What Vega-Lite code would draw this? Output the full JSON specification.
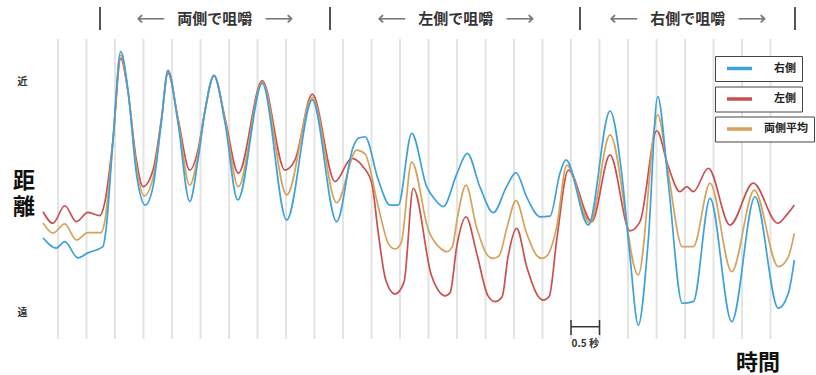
{
  "$schema": "https://vega.github.io/schema/vega-lite/v6.json",
  "width": 816,
  "height": 375,
  "autosize": {"type": "none"},
  "padding": 0,
  "config": {"view": {"stroke": null}, "font": "Noto Sans CJK JP"},
  "datasets": {
    "grid": [{"t":0},{"t":0.5},{"t":1},{"t":1.5},{"t":2},{"t":2.5},{"t":3},{"t":3.5},{"t":4},{"t":4.5},{"t":5},{"t":5.5},{"t":6},{"t":6.5},{"t":7},{"t":7.5},{"t":8},{"t":8.5},{"t":9},{"t":9.5},{"t":10},{"t":10.5},{"t":11},{"t":11.5},{"t":12},{"t":12.5}],
    "dividers": [{"t":0.737},{"t":4.772},{"t":9.158},{"t":12.93}],
    "sections": [{"t":2.75,"label":"両側で咀嚼"},{"t":6.98,"label":"左側で咀嚼"},{"t":11.05,"label":"右側で咀嚼"}],
    "scalebar": [{"t":9},{"t":9.5}],
    "lines": [
      {"side":"右側","t":-0.263,"d":32.3},{"side":"右側","t":-0.03,"d":27.8},{"side":"右側","t":0.118,"d":30.6},{"side":"右側","t":0.351,"d":23.5},{"side":"右側","t":0.526,"d":25.7},{"side":"右側","t":0.789,"d":28.4},{"side":"右側","t":0.842,"d":35.7},{"side":"右側","t":0.965,"d":74.8},{"side":"右側","t":1.1,"d":113.2},{"side":"右側","t":1.228,"d":96.5},{"side":"右側","t":1.374,"d":60.4},{"side":"右側","t":1.532,"d":46.5},{"side":"右側","t":1.667,"d":54.5},{"side":"右側","t":1.812,"d":82.2},{"side":"右側","t":1.93,"d":105.2},{"side":"右側","t":2.105,"d":82.2},{"side":"右側","t":2.311,"d":48.0},{"side":"右側","t":2.456,"d":66.1},{"side":"右側","t":2.574,"d":86.5},{"side":"右側","t":2.737,"d":103.0},{"side":"右側","t":2.93,"d":82.2},{"side":"右側","t":3.153,"d":48.7},{"side":"右側","t":3.584,"d":99.4},{"side":"右側","t":4.012,"d":40.0},{"side":"右側","t":4.461,"d":92.2},{"side":"右側","t":4.889,"d":39.3},{"side":"右側","t":5.181,"d":71.9},{"side":"右側","t":5.268,"d":75.5},{"side":"右側","t":5.386,"d":76.2},{"side":"右側","t":5.619,"d":57.4},{"side":"右側","t":5.825,"d":46.5},{"side":"右側","t":5.97,"d":46.5},{"side":"右側","t":6.205,"d":77.7},{"side":"右側","t":6.468,"d":54.5},{"side":"右側","t":6.62,"d":48.7},{"side":"右側","t":6.76,"d":45.8},{"side":"右側","t":7.0,"d":60.3},{"side":"右側","t":7.181,"d":69.0},{"side":"右側","t":7.4,"d":54.5},{"side":"右側","t":7.637,"d":43.2},{"side":"右側","t":7.87,"d":54.5},{"side":"右側","t":8.035,"d":60.6},{"side":"右側","t":8.22,"d":50.1},{"side":"右側","t":8.456,"d":41.4},{"side":"右側","t":8.632,"d":41.7},{"side":"右側","t":8.807,"d":60.4},{"side":"右側","t":8.912,"d":66.1},{"side":"右側","t":9.304,"d":37.8},{"side":"右側","t":9.684,"d":87.4},{"side":"右側","t":9.889,"d":60.3},{"side":"右側","t":10.035,"d":24.0},{"side":"右側","t":10.18,"d":-5.7},{"side":"右側","t":10.356,"d":31.3},{"side":"右側","t":10.521,"d":93.6},{"side":"右側","t":10.707,"d":56.0},{"side":"右側","t":10.953,"d":3.8},{"side":"右側","t":11.146,"d":4.5},{"side":"右側","t":11.439,"d":49.4},{"side":"右側","t":11.819,"d":-4.2},{"side":"右側","t":12.228,"d":50.1},{"side":"右側","t":12.637,"d":1.6},{"side":"右側","t":12.812,"d":8.1},{"side":"右側","t":12.918,"d":22.6},
      {"side":"左側","t":-0.263,"d":43.6},{"side":"左側","t":-0.088,"d":38.6},{"side":"左側","t":0.118,"d":46.2},{"side":"左側","t":0.321,"d":39.3},{"side":"左側","t":0.526,"d":43.3},{"side":"左側","t":0.732,"d":41.9},{"side":"左側","t":0.819,"d":47.4},{"side":"左側","t":0.965,"d":74.8},{"side":"左側","t":1.1,"d":110.3},{"side":"左側","t":1.228,"d":95.7},{"side":"左側","t":1.374,"d":66.1},{"side":"左側","t":1.491,"d":54.5},{"side":"左側","t":1.667,"d":61.7},{"side":"左側","t":1.812,"d":83.5},{"side":"左側","t":1.93,"d":103.9},{"side":"左側","t":2.105,"d":84.3},{"side":"左側","t":2.311,"d":61.7},{"side":"左側","t":2.456,"d":70.4},{"side":"左側","t":2.574,"d":87.0},{"side":"左側","t":2.737,"d":102.6},{"side":"左側","t":2.93,"d":84.3},{"side":"左側","t":3.163,"d":60.3},{"side":"左側","t":3.584,"d":100.6},{"side":"左側","t":3.982,"d":61.7},{"side":"左側","t":4.158,"d":66.1},{"side":"左側","t":4.461,"d":94.7},{"side":"左側","t":4.86,"d":56.7},{"side":"左側","t":5.153,"d":66.8},{"side":"左側","t":5.351,"d":63.2},{"side":"左側","t":5.504,"d":56.1},{"side":"左側","t":5.619,"d":34.3},{"side":"左側","t":5.75,"d":13.9},{"side":"左側","t":5.912,"d":7.8},{"side":"左側","t":6.07,"d":13.0},{"side":"左側","t":6.233,"d":53.8},{"side":"左側","t":6.55,"d":16.0},{"side":"左側","t":6.7,"d":8.5},{"side":"左側","t":6.789,"d":7.0},{"side":"左側","t":6.88,"d":8.5},{"side":"左側","t":6.995,"d":28.4},{"side":"左側","t":7.158,"d":41.4},{"side":"左側","t":7.345,"d":25.6},{"side":"左側","t":7.544,"d":7.0},{"side":"左側","t":7.667,"d":4.5},{"side":"左側","t":7.79,"d":6.5},{"side":"左側","t":7.895,"d":24.0},{"side":"左側","t":8.047,"d":36.4},{"side":"左側","t":8.223,"d":19.7},{"side":"左側","t":8.42,"d":7.0},{"side":"左側","t":8.514,"d":5.2},{"side":"左側","t":8.62,"d":7.0},{"side":"左側","t":8.749,"d":31.3},{"side":"左側","t":8.953,"d":61.7},{"side":"左側","t":9.363,"d":39.3},{"side":"左側","t":9.684,"d":68.3},{"side":"左側","t":10.035,"d":35.3},{"side":"左側","t":10.211,"d":39.3},{"side":"左側","t":10.504,"d":78.8},{"side":"左側","t":10.707,"d":63.2},{"side":"左側","t":10.912,"d":52.3},{"side":"左側","t":11.03,"d":54.5},{"side":"左側","t":11.146,"d":52.3},{"side":"左側","t":11.409,"d":62.5},{"side":"左側","t":11.789,"d":37.8},{"side":"左側","t":12.198,"d":56.0},{"side":"左側","t":12.626,"d":38.6},{"side":"左側","t":12.784,"d":42.2},{"side":"左側","t":12.918,"d":46.5},
      {"side":"両側平均","t":-0.263,"d":38.7},{"side":"両側平均","t":-0.088,"d":34.3},{"side":"両側平均","t":0.118,"d":38.3},{"side":"両側平均","t":0.321,"d":31.3},{"side":"両側平均","t":0.526,"d":34.5},{"side":"両側平均","t":0.754,"d":34.5},{"side":"両側平均","t":0.825,"d":40.0},{"side":"両側平均","t":0.965,"d":74.8},{"side":"両側平均","t":1.1,"d":111.7},{"side":"両側平均","t":1.228,"d":96.1},{"side":"両側平均","t":1.374,"d":63.5},{"side":"両側平均","t":1.509,"d":50.4},{"side":"両側平均","t":1.667,"d":58.3},{"side":"両側平均","t":1.812,"d":82.8},{"side":"両側平均","t":1.93,"d":104.6},{"side":"両側平均","t":2.105,"d":83.5},{"side":"両側平均","t":2.311,"d":55.2},{"side":"両側平均","t":2.456,"d":68.3},{"side":"両側平均","t":2.574,"d":87.0},{"side":"両側平均","t":2.737,"d":102.8},{"side":"両側平均","t":2.93,"d":83.5},{"side":"両側平均","t":3.163,"d":54.5},{"side":"両側平均","t":3.584,"d":100.0},{"side":"両側平均","t":4.012,"d":50.9},{"side":"両側平均","t":4.461,"d":93.3},{"side":"両側平均","t":4.889,"d":47.5},{"side":"両側平均","t":5.239,"d":70.4},{"side":"両側平均","t":5.386,"d":68.7},{"side":"両側平均","t":5.619,"d":45.8},{"side":"両側平均","t":5.80,"d":29.5},{"side":"両側平均","t":5.912,"d":27.4},{"side":"両側平均","t":6.02,"d":30.0},{"side":"両側平均","t":6.205,"d":65.3},{"side":"両側平均","t":6.5,"d":35.5},{"side":"両側平均","t":6.72,"d":27.5},{"side":"両側平均","t":6.819,"d":26.2},{"side":"両側平均","t":6.92,"d":28.5},{"side":"両側平均","t":7.0,"d":40.0},{"side":"両側平均","t":7.158,"d":55.2},{"side":"両側平均","t":7.34,"d":37.1},{"side":"両側平均","t":7.54,"d":24.5},{"side":"両側平均","t":7.637,"d":23.3},{"side":"両側平均","t":7.74,"d":24.5},{"side":"両側平均","t":7.88,"d":37.1},{"side":"両側平均","t":8.035,"d":48.4},{"side":"両側平均","t":8.22,"d":34.3},{"side":"両側平均","t":8.40,"d":24.5},{"side":"両側平均","t":8.486,"d":23.3},{"side":"両側平均","t":8.58,"d":24.5},{"side":"両側平均","t":8.75,"d":37.1},{"side":"両側平均","t":8.925,"d":63.9},{"side":"両側平均","t":9.333,"d":38.6},{"side":"両側平均","t":9.684,"d":77.0},{"side":"両側平均","t":10.18,"d":16.1},{"side":"両側平均","t":10.521,"d":85.7},{"side":"両側平均","t":10.707,"d":60.3},{"side":"両側平均","t":10.953,"d":28.4},{"side":"両側平均","t":11.146,"d":28.4},{"side":"両側平均","t":11.439,"d":56.0},{"side":"両側平均","t":11.819,"d":17.5},{"side":"両側平均","t":12.216,"d":53.0},{"side":"両側平均","t":12.637,"d":19.7},{"side":"両側平均","t":12.812,"d":24.0},{"side":"両側平均","t":12.918,"d":34.2}
    ]
  },
  "layer": [
    {
      "data": {"name": "grid"},
      "mark": {"type": "rule", "color": "#e4e4e4", "strokeWidth": 2},
      "encoding": {
        "x": {"field": "t", "type": "quantitative", "scale": {"domain": [-1.0175, 13.298], "nice": false, "zero": false},
              "axis": {"orient": "bottom", "labels": false, "ticks": false, "domain": false, "grid": false, "title": "時間", "titleX": 757.5, "titleY": -5.5, "titleAlign": "center", "titleAnchor": null, "titleBaseline": "alphabetic", "titleFontSize": 22, "titleFontWeight": "bold", "titleColor": "#111"}},
        "y": {"datum": 118.7, "type": "quantitative", "scale": {"domain": [-27.39, 135.65], "nice": false, "zero": false},
              "axis": {"orient": "left", "offset": -30, "values": [0, 100], "labelExpr": "datum.value == 100 ? '近' : '遠'", "ticks": false, "tickSize": 0, "domain": false, "grid": false, "labelAlign": "center", "labelBaseline": "middle", "labelPadding": 8, "labelFontSize": 10, "labelFontWeight": "bold", "labelColor": "#333", "title": ["距", "離"], "titleAngle": 0, "titleAlign": "center", "titleBaseline": "top", "titleX": -6.5, "titleY": 170, "titleFontSize": 22, "titleFontWeight": "bold", "titleLineHeight": 26, "titleColor": "#111"}},
        "y2": {"datum": -11.7}
      }
    },
    {
      "data": {"name": "dividers"},
      "mark": {"type": "rule", "color": "#555", "strokeWidth": 2},
      "encoding": {
        "x": {"field": "t", "type": "quantitative"},
        "y": {"datum": 132.6, "type": "quantitative"},
        "y2": {"datum": 122.6}
      }
    },
    {
      "data": {"name": "sections"},
      "mark": {"type": "text", "fontSize": 15, "fontWeight": "bold", "color": "#333", "baseline": "middle", "align": "center"},
      "encoding": {
        "x": {"field": "t", "type": "quantitative"},
        "y": {"datum": 127.4, "type": "quantitative"},
        "text": {"field": "label"}
      }
    },
    {
      "data": {"name": "sections"},
      "mark": {"type": "text", "text": "⟵", "font": "DejaVu Sans", "fontSize": 20, "color": "#777", "baseline": "middle", "align": "center", "dx": -64},
      "encoding": {
        "x": {"field": "t", "type": "quantitative"},
        "y": {"datum": 127.4, "type": "quantitative"}
      }
    },
    {
      "data": {"name": "sections"},
      "mark": {"type": "text", "text": "⟶", "font": "DejaVu Sans", "fontSize": 20, "color": "#777", "baseline": "middle", "align": "center", "dx": 64},
      "encoding": {
        "x": {"field": "t", "type": "quantitative"},
        "y": {"datum": 127.4, "type": "quantitative"}
      }
    },
    {
      "data": {"name": "lines"},
      "transform": [{"filter": "datum.side == '左側'"}],
      "mark": {"type": "line", "interpolate": "monotone", "strokeWidth": 1.7},
      "encoding": {
        "x": {"field": "t", "type": "quantitative"},
        "y": {"field": "d", "type": "quantitative"},
        "color": {"field": "side", "type": "nominal", "scale": {"domain": ["左側"], "range": ["#c9504f"]},
                  "legend": {"orient": "none", "legendX": 715, "legendY": 86.5, "title": null, "symbolType": "stroke", "symbolSize": 625, "symbolStrokeWidth": 3.5, "symbolOffset": 4, "clipHeight": 13, "labelOffset": 20, "labelExpr": "datum.label + '\u00a0\u00a0\u00a0\u00a0\u00a0\u00a0'", "labelFontSize": 11, "labelFontWeight": "bold", "labelColor": "#222", "padding": 6, "strokeColor": "#444", "fillColor": "#fff"}}
      }
    },
    {
      "data": {"name": "lines"},
      "transform": [{"filter": "datum.side == '両側平均'"}],
      "mark": {"type": "line", "interpolate": "monotone", "strokeWidth": 1.7},
      "encoding": {
        "x": {"field": "t", "type": "quantitative"},
        "y": {"field": "d", "type": "quantitative"},
        "color": {"field": "side", "type": "nominal", "scale": {"domain": ["両側平均"], "range": ["#d5a35c"]},
                  "legend": {"orient": "none", "legendX": 715, "legendY": 116.5, "title": null, "symbolType": "stroke", "symbolSize": 625, "symbolStrokeWidth": 3.5, "symbolOffset": 4, "clipHeight": 13, "labelOffset": 10, "labelExpr": "datum.label + '\u00a0\u00a0\u00a0\u00a0\u00a0\u00a0'", "labelFontSize": 11, "labelFontWeight": "bold", "labelColor": "#222", "padding": 6, "strokeColor": "#444", "fillColor": "#fff"}}
      }
    },
    {
      "data": {"name": "lines"},
      "transform": [{"filter": "datum.side == '右側'"}],
      "mark": {"type": "line", "interpolate": "monotone", "strokeWidth": 1.7},
      "encoding": {
        "x": {"field": "t", "type": "quantitative"},
        "y": {"field": "d", "type": "quantitative"},
        "color": {"field": "side", "type": "nominal", "scale": {"domain": ["右側"], "range": ["#3ea2d9"]},
                  "legend": {"orient": "none", "legendX": 715, "legendY": 56, "title": null, "symbolType": "stroke", "symbolSize": 625, "symbolStrokeWidth": 3.5, "symbolOffset": 4, "clipHeight": 13, "labelOffset": 20, "labelExpr": "datum.label + '\u00a0\u00a0\u00a0\u00a0\u00a0\u00a0'", "labelFontSize": 11, "labelFontWeight": "bold", "labelColor": "#222", "padding": 6, "strokeColor": "#444", "fillColor": "#fff"}}
      }
    },
    {
      "data": {"values": [{}]},
      "mark": {"type": "rule", "color": "#333", "strokeWidth": 1.5},
      "encoding": {
        "x": {"datum": 9, "type": "quantitative"},
        "x2": {"datum": 9.5},
        "y": {"datum": -6.4, "type": "quantitative"}
      }
    },
    {
      "data": {"name": "scalebar"},
      "mark": {"type": "rule", "color": "#333", "strokeWidth": 1.5},
      "encoding": {
        "x": {"field": "t", "type": "quantitative"},
        "y": {"datum": -3.5, "type": "quantitative"},
        "y2": {"datum": -10}
      }
    },
    {
      "data": {"values": [{}]},
      "mark": {"type": "text", "text": "0.5 秒", "fontSize": 10, "fontWeight": "bold", "color": "#333", "baseline": "middle", "align": "center"},
      "encoding": {
        "x": {"datum": 9.25, "type": "quantitative"},
        "y": {"datum": -13.9, "type": "quantitative"}
      }
    }
  ],
  "resolve": {"scale": {"color": "independent"}, "legend": {"color": "independent"}}
}
